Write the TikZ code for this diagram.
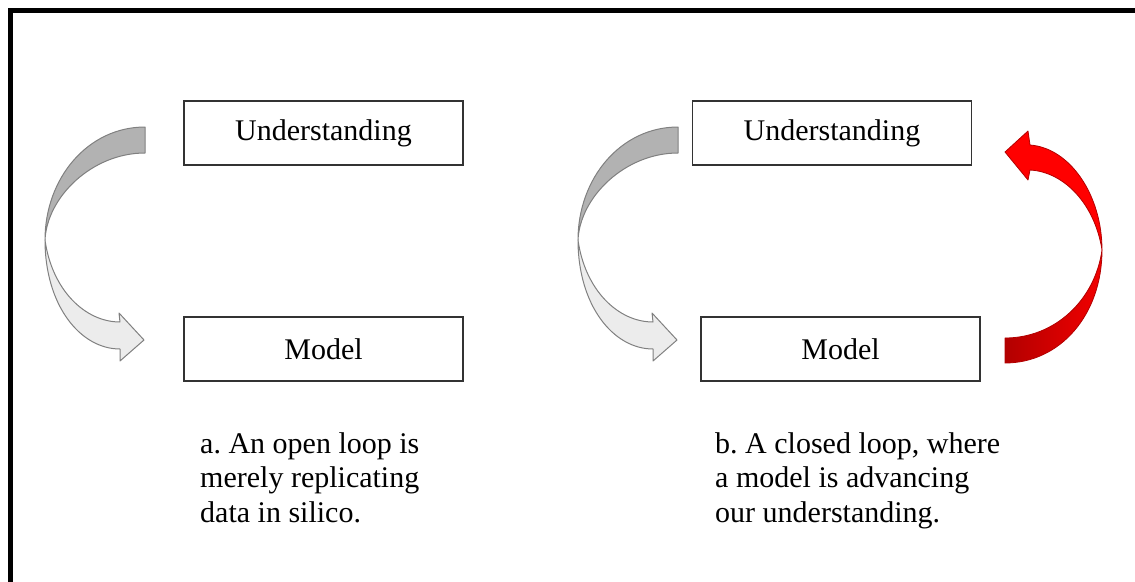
\documentclass[tikz,border=0pt]{standalone}
\usepackage{fontspec}
\setmainfont{Liberation Serif}
\usepackage{tikz}
\usepackage{xcolor}
\usetikzlibrary{positioning}
\frenchspacing

\begin{document}
\begin{tikzpicture}[x=1pt, y=-1pt, font=\fontsize{30}{34.5}\selectfont,
    box/.style={draw=black!80, line width=1.5pt, minimum width=279pt, minimum height=64pt, inner sep=0pt},
    caption/.style={anchor=north west, align=left, inner sep=0pt},
    backside/.style={draw=gray, fill=gray!60, line width=1pt, line join=round},
    frontside/.style={draw=gray, fill=gray!15, line width=1pt, line join=round},
    redtop/.style={draw=red!70!black, fill=red, line width=0.8pt, line join=round},
    redbottom/.style={draw=red!70!black, left color=red!70!black, right color=red!95!black, line width=0.8pt, line join=round}]
    \useasboundingbox (0,0) rectangle (1135,581);
    \draw[line width=4.5pt] (10.5,600) -- (10.5,10.5) -- (1150,10.5);

    \node[box] (understandA) at (323.5,133) {Understanding};
    \node[box] (modelA) at (323.5,349) {Model};
    \node[box] (understandB) at (832,133) {Understanding};
    \node[box] (modelB) at (840.5,349) {Model};

    \node[caption] (captionA) at (200,432) {a. An open loop is\\merely replicating\\data in silico.};
    \node[caption] (captionB) at (715,432) {b. A closed loop, where\\a model is advancing\\our understanding.};

    % open loop
    \draw[backside] (145,127) -- (145,153) .. controls (92,153) and (47,197) .. (45,240)
        .. controls (45,178) and (88,127) .. (145,127) -- cycle;
    \draw[frontside] (45,240) .. controls (45,305) and (80,349) .. (120,349) -- (120,361) -- (144,340)
        -- (119,313) -- (120,322) .. controls (85,322) and (52,290) .. (45,240) -- cycle;

    % closed loop
    \begin{scope}[xshift=533pt]
    \draw[backside] (145,127) -- (145,153) .. controls (92,153) and (47,197) .. (45,240)
        .. controls (45,178) and (88,127) .. (145,127) -- cycle;
    \draw[frontside] (45,240) .. controls (45,305) and (80,349) .. (120,349) -- (120,361) -- (144,340)
        -- (119,313) -- (120,322) .. controls (85,322) and (52,290) .. (45,240) -- cycle;
    \end{scope}
    \draw[redbottom] (1102,250) .. controls (1102,315) and (1060,363) .. (1005,363) -- (1005,338)
        .. controls (1055,338) and (1095,300) .. (1102,250) -- cycle;
    \draw[redtop] (1102,250) .. controls (1102,195) and (1070,148) .. (1030,145) -- (1028,131) -- (1005,152)
        -- (1028,180) -- (1030,170) .. controls (1065,172) and (1095,205) .. (1102,250) -- cycle;
\end{tikzpicture}
\end{document}
